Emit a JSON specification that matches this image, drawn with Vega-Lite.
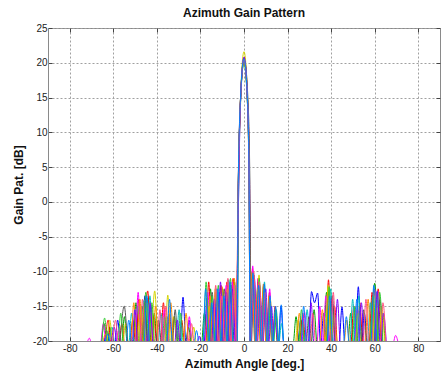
{
  "$schema": "https://vega.github.io/schema/vega-lite/v6.json",
  "width": 392,
  "height": 313,
  "autosize": {"type": "none"},
  "padding": {"left": 48, "top": 28, "right": 1, "bottom": 37},
  "background": "white",
  "title": {"text": "Azimuth Gain Pattern", "font": "Liberation Sans", "fontSize": 12, "fontWeight": "bold", "color": "#111111", "offset": 3},
  "config": {
    "view": {"stroke": "#8a8a8a", "strokeWidth": 1},
    "axis": {
      "labelFont": "Liberation Sans", "labelFontSize": 10, "labelColor": "#222222",
      "titleFont": "Liberation Sans", "titleFontSize": 12, "titleFontWeight": "bold", "titleColor": "#111111",
      "domainColor": "#8a8a8a", "tickColor": "#444444",
      "gridColor": "#a0a0a0", "gridDash": [2, 2], "gridWidth": 1
    }
  },
  "data": {"values": [
    {"s":"a","x":-64.4,"y":-20.6},{"s":"a","x":-63,"y":-18.5},{"s":"a","x":-61.6,"y":-20.6},{"s":"a","x":-59.4,"y":-20.6},{"s":"a","x":-58,"y":-17},{"s":"a","x":-56.6,"y":-20.6},
    {"s":"a","x":-49.7,"y":-20.6},{"s":"a","x":-48.3,"y":-15.5},{"s":"a","x":-46.9,"y":-20.6},{"s":"a","x":-45.5,"y":-13.5},{"s":"a","x":-44.1,"y":-20.6},{"s":"a","x":-42.7,"y":-15},{"s":"a","x":-41.3,"y":-20.6},
    {"s":"a","x":-37.4,"y":-20.6},{"s":"a","x":-36,"y":-17},{"s":"a","x":-34.6,"y":-20.6},{"s":"a","x":-29.4,"y":-20.6},{"s":"a","x":-28,"y":-13.7},{"s":"a","x":-26.6,"y":-20.6},{"s":"a","x":-25.2,"y":-17},{"s":"a","x":-23.8,"y":-20.6},
    {"s":"a","x":-18.4,"y":-20.6},{"s":"a","x":-17,"y":-14},{"s":"a","x":-15.6,"y":-20.6},{"s":"a","x":-14.2,"y":-15.5},{"s":"a","x":-12.8,"y":-20.6},{"s":"a","x":-11.4,"y":-13},{"s":"a","x":-10,"y":-20.6},{"s":"a","x":-8.6,"y":-14},{"s":"a","x":-7.2,"y":-20.6},{"s":"a","x":-5.8,"y":-12},{"s":"a","x":-4.4,"y":-20.6},
    {"s":"a","x":-3.1,"y":-20.6},{"s":"a","x":-2.6,"y":0},{"s":"a","x":-1.6,"y":14.5},{"s":"a","x":0,"y":20.6},{"s":"a","x":1.5,"y":15},{"s":"a","x":2.4,"y":3},{"s":"a","x":2.9,"y":-20.6},
    {"s":"a","x":4,"y":-11},{"s":"a","x":5.3,"y":-20.6},{"s":"a","x":6.6,"y":-12},{"s":"a","x":7.9,"y":-20.6},{"s":"a","x":9.2,"y":-13.5},{"s":"a","x":10.5,"y":-20.6},{"s":"a","x":11.8,"y":-15},{"s":"a","x":13.1,"y":-20.6},{"s":"a","x":14.4,"y":-16},{"s":"a","x":15.7,"y":-20.6},{"s":"a","x":17,"y":-15},{"s":"a","x":18.3,"y":-20.6},
    {"s":"a","x":24.6,"y":-20.6},{"s":"a","x":26,"y":-17},{"s":"a","x":27.4,"y":-20.6},{"s":"a","x":29.6,"y":-20.6},{"s":"a","x":31,"y":-12.9},{"s":"a","x":32.4,"y":-14.5},{"s":"a","x":33.8,"y":-13.1},{"s":"a","x":35.2,"y":-20.6},{"s":"a","x":36.6,"y":-16},{"s":"a","x":38,"y":-20.6},{"s":"a","x":39.4,"y":-14.5},{"s":"a","x":40.8,"y":-20.6},
    {"s":"a","x":43.6,"y":-20.6},{"s":"a","x":45,"y":-15.1},{"s":"a","x":46.4,"y":-20.6},{"s":"a","x":51.1,"y":-20.6},{"s":"a","x":52.5,"y":-12.2},{"s":"a","x":53.9,"y":-20.6},{"s":"a","x":55.3,"y":-16},{"s":"a","x":56.7,"y":-20.6},{"s":"a","x":57.6,"y":-20.6},{"s":"a","x":59,"y":-14},{"s":"a","x":60.4,"y":-20.6},{"s":"a","x":61.8,"y":-15.5},{"s":"a","x":63.2,"y":-20.6},

    {"s":"b","x":-65.5,"y":-20.6},{"s":"b","x":-64.2,"y":-17.5},{"s":"b","x":-62.9,"y":-20.6},{"s":"b","x":-61.6,"y":-18},{"s":"b","x":-60.3,"y":-20.6},{"s":"b","x":-56.3,"y":-20.6},{"s":"b","x":-54.9,"y":-16.5},{"s":"b","x":-53.5,"y":-20.6},
    {"s":"b","x":-51,"y":-20.6},{"s":"b","x":-49.6,"y":-14.5},{"s":"b","x":-48.2,"y":-20.6},{"s":"b","x":-46.8,"y":-15},{"s":"b","x":-45.4,"y":-20.6},{"s":"b","x":-44,"y":-13.8},{"s":"b","x":-42.6,"y":-20.6},{"s":"b","x":-41.2,"y":-16},{"s":"b","x":-39.8,"y":-20.6},
    {"s":"b","x":-33.5,"y":-20.6},{"s":"b","x":-32,"y":-16.5},{"s":"b","x":-30.5,"y":-20.6},{"s":"b","x":-27,"y":-20.6},{"s":"b","x":-25.5,"y":-18},{"s":"b","x":-24,"y":-20.6},
    {"s":"b","x":-19.6,"y":-20.6},{"s":"b","x":-18.2,"y":-16},{"s":"b","x":-16.8,"y":-20.6},{"s":"b","x":-15.4,"y":-12.5},{"s":"b","x":-14,"y":-20.6},{"s":"b","x":-12.6,"y":-15},{"s":"b","x":-11.2,"y":-20.6},{"s":"b","x":-9.8,"y":-12.5},{"s":"b","x":-8.4,"y":-20.6},{"s":"b","x":-7,"y":-13.5},{"s":"b","x":-5.6,"y":-20.6},{"s":"b","x":-4.3,"y":-11.5},{"s":"b","x":-3.3,"y":-20.6},
    {"s":"b","x":-2.8,"y":-2},{"s":"b","x":-1.8,"y":13},{"s":"b","x":-0.2,"y":20.4},{"s":"b","x":1.3,"y":16},{"s":"b","x":2.3,"y":4},{"s":"b","x":2.8,"y":-20.6},
    {"s":"b","x":3.8,"y":-10},{"s":"b","x":5.1,"y":-20.6},{"s":"b","x":6.4,"y":-11.5},{"s":"b","x":7.7,"y":-20.6},{"s":"b","x":9,"y":-12},{"s":"b","x":10.3,"y":-20.6},{"s":"b","x":11.6,"y":-14},{"s":"b","x":12.9,"y":-20.6},{"s":"b","x":14.2,"y":-17},{"s":"b","x":15.5,"y":-20.6},
    {"s":"b","x":22.5,"y":-20.6},{"s":"b","x":23.9,"y":-16.5},{"s":"b","x":25.3,"y":-20.6},{"s":"b","x":26.7,"y":-17},{"s":"b","x":28.1,"y":-20.6},{"s":"b","x":30.8,"y":-20.6},{"s":"b","x":32.2,"y":-15.5},{"s":"b","x":33.6,"y":-20.6},
    {"s":"b","x":36.5,"y":-20.6},{"s":"b","x":37.9,"y":-13},{"s":"b","x":39.3,"y":-20.6},{"s":"b","x":40.7,"y":-15},{"s":"b","x":42.1,"y":-20.6},{"s":"b","x":47.6,"y":-20.6},{"s":"b","x":49,"y":-16},{"s":"b","x":50.4,"y":-20.6},
    {"s":"b","x":57.9,"y":-20.6},{"s":"b","x":60,"y":-11.7},{"s":"b","x":62.1,"y":-20.6},{"s":"b","x":63.5,"y":-16},{"s":"b","x":64.9,"y":-20.6},

    {"s":"c","x":-63.8,"y":-20.6},{"s":"c","x":-62.4,"y":-17},{"s":"c","x":-61,"y":-20.6},{"s":"c","x":-57.5,"y":-20.6},{"s":"c","x":-56.1,"y":-17.5},{"s":"c","x":-54.7,"y":-20.6},
    {"s":"c","x":-52.5,"y":-20.6},{"s":"c","x":-51.1,"y":-17},{"s":"c","x":-49.7,"y":-20.6},{"s":"c","x":-48.3,"y":-14},{"s":"c","x":-46.9,"y":-20.6},{"s":"c","x":-44.2,"y":-12.8},{"s":"c","x":-42.8,"y":-20.6},{"s":"c","x":-41.4,"y":-16.5},{"s":"c","x":-40,"y":-20.6},
    {"s":"c","x":-38.4,"y":-20.6},{"s":"c","x":-37,"y":-14.5},{"s":"c","x":-35.6,"y":-20.6},{"s":"c","x":-34.2,"y":-16.2},{"s":"c","x":-32.8,"y":-20.6},{"s":"c","x":-30,"y":-20.6},{"s":"c","x":-28.6,"y":-17},{"s":"c","x":-27.2,"y":-20.6},
    {"s":"c","x":-17.6,"y":-20.6},{"s":"c","x":-16.2,"y":-11.5},{"s":"c","x":-14.8,"y":-20.6},{"s":"c","x":-13.4,"y":-14},{"s":"c","x":-12,"y":-20.6},{"s":"c","x":-10.6,"y":-12},{"s":"c","x":-9.2,"y":-20.6},{"s":"c","x":-7.8,"y":-11.5},{"s":"c","x":-6.4,"y":-20.6},{"s":"c","x":-5,"y":-11},{"s":"c","x":-3.6,"y":-20.6},
    {"s":"c","x":-2.7,"y":2},{"s":"c","x":-1.5,"y":15.5},{"s":"c","x":0.1,"y":20.8},{"s":"c","x":1.6,"y":15},{"s":"c","x":2.5,"y":2},{"s":"c","x":3,"y":-20.6},
    {"s":"c","x":3.9,"y":-9.5},{"s":"c","x":5.2,"y":-20.6},{"s":"c","x":6.5,"y":-11},{"s":"c","x":7.8,"y":-20.6},{"s":"c","x":9.1,"y":-12.5},{"s":"c","x":10.4,"y":-20.6},{"s":"c","x":11.7,"y":-13},{"s":"c","x":13,"y":-20.6},{"s":"c","x":14.3,"y":-15},{"s":"c","x":15.6,"y":-20.6},
    {"s":"c","x":25.6,"y":-20.6},{"s":"c","x":27,"y":-16},{"s":"c","x":28.4,"y":-20.6},{"s":"c","x":37.4,"y":-20.6},{"s":"c","x":38.8,"y":-11.2},{"s":"c","x":40.2,"y":-20.6},{"s":"c","x":41.6,"y":-15},{"s":"c","x":43,"y":-20.6},
    {"s":"c","x":49,"y":-20.6},{"s":"c","x":50.4,"y":-15},{"s":"c","x":51.8,"y":-20.6},{"s":"c","x":53.2,"y":-14.5},{"s":"c","x":54.6,"y":-20.6},{"s":"c","x":57.4,"y":-20.6},{"s":"c","x":58.8,"y":-13},{"s":"c","x":60.2,"y":-20.6},{"s":"c","x":61.6,"y":-12.5},{"s":"c","x":63,"y":-20.6},

    {"s":"d","x":-62,"y":-20.6},{"s":"d","x":-60.6,"y":-18},{"s":"d","x":-59.2,"y":-20.6},
    {"s":"d","x":-53,"y":-20.6},{"s":"d","x":-51.6,"y":-16},{"s":"d","x":-50.2,"y":-20.6},{"s":"d","x":-48.8,"y":-15},{"s":"d","x":-47.4,"y":-20.6},{"s":"d","x":-46,"y":-14.2},{"s":"d","x":-44.6,"y":-20.6},{"s":"d","x":-43.2,"y":-13.5},{"s":"d","x":-41.8,"y":-20.6},
    {"s":"d","x":-39.5,"y":-20.6},{"s":"d","x":-38.1,"y":-16},{"s":"d","x":-36.7,"y":-20.6},{"s":"d","x":-35.3,"y":-16.5},{"s":"d","x":-33.9,"y":-20.6},{"s":"d","x":-31.2,"y":-20.6},{"s":"d","x":-29.8,"y":-15.5},{"s":"d","x":-28.4,"y":-20.6},
    {"s":"d","x":-16.8,"y":-20.6},{"s":"d","x":-15.4,"y":-14},{"s":"d","x":-14,"y":-20.6},{"s":"d","x":-12.6,"y":-12.5},{"s":"d","x":-11.2,"y":-20.6},{"s":"d","x":-9.8,"y":-13},{"s":"d","x":-8.4,"y":-20.6},{"s":"d","x":-7,"y":-11.2},{"s":"d","x":-5.6,"y":-20.6},{"s":"d","x":-4.2,"y":-12},{"s":"d","x":-3.3,"y":-20.6},
    {"s":"d","x":-2.9,"y":-5},{"s":"d","x":-1.9,"y":12},{"s":"d","x":0,"y":20.2},{"s":"d","x":1.4,"y":15.5},{"s":"d","x":2.3,"y":4},{"s":"d","x":2.8,"y":-20.6},
    {"s":"d","x":4.2,"y":-10.8},{"s":"d","x":5.5,"y":-20.6},{"s":"d","x":6.8,"y":-12.5},{"s":"d","x":8.1,"y":-20.6},{"s":"d","x":9.4,"y":-11.5},{"s":"d","x":10.7,"y":-20.6},{"s":"d","x":12,"y":-14.5},{"s":"d","x":13.3,"y":-20.6},{"s":"d","x":14.6,"y":-15.5},{"s":"d","x":15.9,"y":-20.6},{"s":"d","x":17.2,"y":-17.5},{"s":"d","x":18.5,"y":-20.6},
    {"s":"d","x":27.6,"y":-20.6},{"s":"d","x":29,"y":-15.5},{"s":"d","x":30.4,"y":-20.6},{"s":"d","x":38.4,"y":-20.6},{"s":"d","x":39.8,"y":-12.5},{"s":"d","x":41.2,"y":-20.6},
    {"s":"d","x":48.5,"y":-20.6},{"s":"d","x":49.9,"y":-14},{"s":"d","x":51.3,"y":-20.6},{"s":"d","x":52.7,"y":-13.5},{"s":"d","x":54.1,"y":-20.6},{"s":"d","x":56.6,"y":-20.6},{"s":"d","x":58,"y":-14.5},{"s":"d","x":59.4,"y":-20.6},{"s":"d","x":60.8,"y":-13},{"s":"d","x":62.2,"y":-20.6},

    {"s":"e","x":-72.3,"y":-20.6},{"s":"e","x":-71,"y":-19.6},{"s":"e","x":-69.7,"y":-20.6},{"s":"e","x":-66,"y":-20.6},{"s":"e","x":-64.6,"y":-17.5},{"s":"e","x":-63.2,"y":-20.6},{"s":"e","x":-59,"y":-20.6},{"s":"e","x":-57.6,"y":-18.5},{"s":"e","x":-56.2,"y":-20.6},
    {"s":"e","x":-50,"y":-20.6},{"s":"e","x":-48.6,"y":-13},{"s":"e","x":-47.2,"y":-20.6},{"s":"e","x":-45.8,"y":-15},{"s":"e","x":-44.4,"y":-20.6},{"s":"e","x":-43,"y":-16},{"s":"e","x":-41.6,"y":-20.6},
    {"s":"e","x":-38,"y":-20.6},{"s":"e","x":-36.6,"y":-15.5},{"s":"e","x":-35.2,"y":-20.6},{"s":"e","x":-26.5,"y":-20.6},{"s":"e","x":-25.1,"y":-16.5},{"s":"e","x":-23.7,"y":-20.6},
    {"s":"e","x":-18,"y":-20.6},{"s":"e","x":-16.6,"y":-13},{"s":"e","x":-15.2,"y":-20.6},{"s":"e","x":-13.8,"y":-14.5},{"s":"e","x":-12.4,"y":-20.6},{"s":"e","x":-11,"y":-13.5},{"s":"e","x":-9.6,"y":-20.6},{"s":"e","x":-8.2,"y":-12},{"s":"e","x":-6.8,"y":-20.6},{"s":"e","x":-5.4,"y":-11.5},{"s":"e","x":-4,"y":-20.6},
    {"s":"e","x":-3.2,"y":-20.6},{"s":"e","x":-2.8,"y":-3},{"s":"e","x":-1.7,"y":13.5},{"s":"e","x":0,"y":20.5},{"s":"e","x":1.6,"y":15},{"s":"e","x":2.6,"y":2},{"s":"e","x":3.1,"y":-20.6},
    {"s":"e","x":4,"y":-9.2},{"s":"e","x":5.3,"y":-20.6},{"s":"e","x":6.6,"y":-11},{"s":"e","x":7.9,"y":-20.6},{"s":"e","x":9.2,"y":-14},{"s":"e","x":10.5,"y":-20.6},{"s":"e","x":11.8,"y":-12.5},{"s":"e","x":13.1,"y":-20.6},{"s":"e","x":14.4,"y":-16.5},{"s":"e","x":15.7,"y":-20.6},
    {"s":"e","x":26.4,"y":-20.6},{"s":"e","x":27.8,"y":-15.8},{"s":"e","x":29.2,"y":-20.6},{"s":"e","x":33.4,"y":-20.6},{"s":"e","x":34.8,"y":-15},{"s":"e","x":36.2,"y":-20.6},{"s":"e","x":37.6,"y":-13.5},{"s":"e","x":39,"y":-20.6},{"s":"e","x":40.4,"y":-14},{"s":"e","x":41.8,"y":-20.6},
    {"s":"e","x":50.6,"y":-20.6},{"s":"e","x":52,"y":-15.5},{"s":"e","x":53.4,"y":-20.6},{"s":"e","x":58.6,"y":-20.6},{"s":"e","x":60,"y":-12.5},{"s":"e","x":61.4,"y":-20.6},{"s":"e","x":68.2,"y":-20.6},{"s":"e","x":69.6,"y":-19.2},{"s":"e","x":71,"y":-20.6},

    {"s":"f","x":-63,"y":-20.6},{"s":"f","x":-61.6,"y":-17},{"s":"f","x":-60.2,"y":-20.6},{"s":"f","x":-55.8,"y":-20.6},{"s":"f","x":-54.4,"y":-17.5},{"s":"f","x":-53,"y":-20.6},
    {"s":"f","x":-48.6,"y":-20.6},{"s":"f","x":-47.2,"y":-15},{"s":"f","x":-45.8,"y":-20.6},{"s":"f","x":-44.4,"y":-14.5},{"s":"f","x":-43,"y":-20.6},{"s":"f","x":-41,"y":-12.8},{"s":"f","x":-39.3,"y":-20.6},
    {"s":"f","x":-36.4,"y":-20.6},{"s":"f","x":-35,"y":-13.4},{"s":"f","x":-33.6,"y":-20.6},{"s":"f","x":-32.2,"y":-16.5},{"s":"f","x":-30.8,"y":-20.6},{"s":"f","x":-24.5,"y":-20.6},{"s":"f","x":-23.1,"y":-18},{"s":"f","x":-21.7,"y":-20.6},
    {"s":"f","x":-17.4,"y":-20.6},{"s":"f","x":-16,"y":-15},{"s":"f","x":-14.6,"y":-20.6},{"s":"f","x":-13.2,"y":-12.5},{"s":"f","x":-11.8,"y":-20.6},{"s":"f","x":-10.4,"y":-14},{"s":"f","x":-9,"y":-20.6},{"s":"f","x":-7.6,"y":-12.5},{"s":"f","x":-6.2,"y":-20.6},{"s":"f","x":-4.8,"y":-13},{"s":"f","x":-3.5,"y":-20.6},
    {"s":"f","x":-2.8,"y":-4},{"s":"f","x":-1.6,"y":15},{"s":"f","x":0,"y":21.6},{"s":"f","x":1.5,"y":16},{"s":"f","x":2.4,"y":3},{"s":"f","x":2.9,"y":-20.6},
    {"s":"f","x":4.3,"y":-12},{"s":"f","x":5.6,"y":-20.6},{"s":"f","x":6.9,"y":-10.5},{"s":"f","x":8.2,"y":-20.6},{"s":"f","x":9.5,"y":-13},{"s":"f","x":10.8,"y":-20.6},{"s":"f","x":12.1,"y":-14},{"s":"f","x":13.4,"y":-20.6},
    {"s":"f","x":23.4,"y":-20.6},{"s":"f","x":24.8,"y":-17},{"s":"f","x":26.2,"y":-20.6},{"s":"f","x":37.2,"y":-20.6},{"s":"f","x":38.6,"y":-12},{"s":"f","x":40,"y":-20.6},{"s":"f","x":41.4,"y":-16},{"s":"f","x":42.8,"y":-20.6},
    {"s":"f","x":51,"y":-20.6},{"s":"f","x":52.4,"y":-16},{"s":"f","x":53.8,"y":-20.6},{"s":"f","x":59,"y":-20.6},{"s":"f","x":60.4,"y":-13.5},{"s":"f","x":61.8,"y":-20.6},{"s":"f","x":63.2,"y":-15},{"s":"f","x":64.6,"y":-20.6},

    {"s":"g","x":-57,"y":-20.6},{"s":"g","x":-55,"y":-15},{"s":"g","x":-53,"y":-20.6},{"s":"g","x":-47,"y":-20.6},{"s":"g","x":-45.6,"y":-14.5},{"s":"g","x":-44.2,"y":-20.6},{"s":"g","x":-40.6,"y":-20.6},{"s":"g","x":-39.2,"y":-17},{"s":"g","x":-37.8,"y":-20.6},
    {"s":"g","x":-33,"y":-20.6},{"s":"g","x":-31.6,"y":-15.5},{"s":"g","x":-30.2,"y":-20.6},
    {"s":"g","x":-16,"y":-20.6},{"s":"g","x":-14.6,"y":-13},{"s":"g","x":-13.2,"y":-20.6},{"s":"g","x":-11.8,"y":-14.5},{"s":"g","x":-10.4,"y":-20.6},{"s":"g","x":-9,"y":-12.5},{"s":"g","x":-7.6,"y":-20.6},{"s":"g","x":-6.2,"y":-13},{"s":"g","x":-4.8,"y":-20.6},
    {"s":"g","x":-3.3,"y":-20.6},{"s":"g","x":-2.7,"y":0},{"s":"g","x":-1.5,"y":15.5},{"s":"g","x":0.2,"y":20.3},{"s":"g","x":1.7,"y":15.5},{"s":"g","x":2.7,"y":3},{"s":"g","x":3.3,"y":-20.6},
    {"s":"g","x":4.6,"y":-10.5},{"s":"g","x":5.9,"y":-20.6},{"s":"g","x":7.2,"y":-12},{"s":"g","x":8.5,"y":-20.6},{"s":"g","x":9.8,"y":-14.5},{"s":"g","x":11.1,"y":-20.6},
    {"s":"g","x":28.4,"y":-20.6},{"s":"g","x":29.8,"y":-16.5},{"s":"g","x":31.2,"y":-20.6},{"s":"g","x":39.2,"y":-20.6},{"s":"g","x":40.6,"y":-13.5},{"s":"g","x":42,"y":-20.6},
    {"s":"g","x":53.6,"y":-20.6},{"s":"g","x":55,"y":-15.5},{"s":"g","x":56.4,"y":-20.6},{"s":"g","x":61,"y":-20.6},{"s":"g","x":62.4,"y":-14},{"s":"g","x":63.8,"y":-20.6},

    {"s":"h","x":-65,"y":-20.6},{"s":"h","x":-63.6,"y":-19},{"s":"h","x":-62.2,"y":-20.6},{"s":"h","x":-52,"y":-20.6},{"s":"h","x":-50.6,"y":-14.5},{"s":"h","x":-49.2,"y":-20.6},{"s":"h","x":-47.8,"y":-14},{"s":"h","x":-46.4,"y":-20.6},
    {"s":"h","x":-42,"y":-20.6},{"s":"h","x":-40.6,"y":-15},{"s":"h","x":-39.2,"y":-20.6},{"s":"h","x":-35,"y":-20.6},{"s":"h","x":-33.6,"y":-14.5},{"s":"h","x":-32.2,"y":-20.6},{"s":"h","x":-28,"y":-20.6},{"s":"h","x":-26.6,"y":-16},{"s":"h","x":-25.2,"y":-20.6},
    {"s":"h","x":-17,"y":-20.6},{"s":"h","x":-15.6,"y":-13.5},{"s":"h","x":-14.2,"y":-20.6},{"s":"h","x":-12.8,"y":-13},{"s":"h","x":-11.4,"y":-20.6},{"s":"h","x":-10,"y":-12.2},{"s":"h","x":-8.6,"y":-20.6},{"s":"h","x":-7.2,"y":-12.5},{"s":"h","x":-5.8,"y":-20.6},{"s":"h","x":-4.4,"y":-11},{"s":"h","x":-3.4,"y":-20.6},
    {"s":"h","x":-2.8,"y":-2},{"s":"h","x":-1.7,"y":14},{"s":"h","x":0,"y":20.4},{"s":"h","x":1.4,"y":15.5},{"s":"h","x":2.3,"y":3},{"s":"h","x":2.8,"y":-20.6},
    {"s":"h","x":3.7,"y":-10.2},{"s":"h","x":5,"y":-20.6},{"s":"h","x":6.3,"y":-12.5},{"s":"h","x":7.6,"y":-20.6},{"s":"h","x":8.9,"y":-11.8},{"s":"h","x":10.2,"y":-20.6},{"s":"h","x":11.5,"y":-13.5},{"s":"h","x":12.8,"y":-20.6},
    {"s":"h","x":24,"y":-20.6},{"s":"h","x":25.4,"y":-16},{"s":"h","x":26.8,"y":-20.6},{"s":"h","x":34.6,"y":-20.6},{"s":"h","x":36,"y":-15.5},{"s":"h","x":37.4,"y":-20.6},{"s":"h","x":38.8,"y":-13},{"s":"h","x":40.2,"y":-20.6},
    {"s":"h","x":45.8,"y":-20.6},{"s":"h","x":47.2,"y":-17},{"s":"h","x":48.6,"y":-20.6},{"s":"h","x":55.6,"y":-20.6},{"s":"h","x":57,"y":-14},{"s":"h","x":58.4,"y":-20.6},{"s":"h","x":59.8,"y":-12.8},{"s":"h","x":61.2,"y":-20.6},

    {"s":"i","x":-65.4,"y":-20.6},{"s":"i","x":-64,"y":-16.7},{"s":"i","x":-62.6,"y":-20.6},{"s":"i","x":-58,"y":-20.6},{"s":"i","x":-56.6,"y":-16},{"s":"i","x":-55.2,"y":-20.6},
    {"s":"i","x":-46.5,"y":-20.6},{"s":"i","x":-45.1,"y":-13},{"s":"i","x":-43.7,"y":-20.6},{"s":"i","x":-42.3,"y":-14.5},{"s":"i","x":-40.9,"y":-20.6},{"s":"i","x":-37.8,"y":-20.6},{"s":"i","x":-36.4,"y":-16.5},{"s":"i","x":-35,"y":-20.6},
    {"s":"i","x":-30.5,"y":-20.6},{"s":"i","x":-29.1,"y":-16},{"s":"i","x":-27.7,"y":-20.6},
    {"s":"i","x":-18.8,"y":-20.6},{"s":"i","x":-17.4,"y":-11.5},{"s":"i","x":-16,"y":-20.6},{"s":"i","x":-14.6,"y":-13.5},{"s":"i","x":-13.2,"y":-20.6},{"s":"i","x":-11.8,"y":-12},{"s":"i","x":-10.4,"y":-20.6},{"s":"i","x":-9,"y":-14},{"s":"i","x":-7.6,"y":-20.6},{"s":"i","x":-6.2,"y":-11},{"s":"i","x":-4.8,"y":-20.6},
    {"s":"i","x":-3.1,"y":-20.6},{"s":"i","x":-2.6,"y":-2},{"s":"i","x":-1.6,"y":14},{"s":"i","x":0,"y":20.3},{"s":"i","x":1.5,"y":15.5},{"s":"i","x":2.4,"y":3},{"s":"i","x":2.9,"y":-20.6},
    {"s":"i","x":4.4,"y":-11.5},{"s":"i","x":5.7,"y":-20.6},{"s":"i","x":7,"y":-11},{"s":"i","x":8.3,"y":-20.6},{"s":"i","x":9.6,"y":-12.5},{"s":"i","x":10.9,"y":-20.6},{"s":"i","x":12.2,"y":-15},{"s":"i","x":13.5,"y":-20.6},{"s":"i","x":14.8,"y":-15.5},{"s":"i","x":16.1,"y":-20.6},
    {"s":"i","x":25,"y":-20.6},{"s":"i","x":26.4,"y":-15.5},{"s":"i","x":27.8,"y":-20.6},{"s":"i","x":37.7,"y":-20.6},{"s":"i","x":39.1,"y":-12.2},{"s":"i","x":40.5,"y":-20.6},
    {"s":"i","x":49.6,"y":-20.6},{"s":"i","x":51,"y":-15},{"s":"i","x":52.4,"y":-20.6},{"s":"i","x":57.5,"y":-20.6},{"s":"i","x":59.2,"y":-13.5},{"s":"i","x":60.9,"y":-20.6},{"s":"i","x":62.3,"y":-13},{"s":"i","x":63.7,"y":-20.6},

    {"s":"j","x":-61,"y":-20.6},{"s":"j","x":-59.6,"y":-18},{"s":"j","x":-58.2,"y":-20.6},{"s":"j","x":-51.5,"y":-20.6},{"s":"j","x":-50.1,"y":-15.5},{"s":"j","x":-48.7,"y":-20.6},{"s":"j","x":-44.5,"y":-20.6},{"s":"j","x":-43.1,"y":-14.5},{"s":"j","x":-41.7,"y":-20.6},
    {"s":"j","x":-32,"y":-20.6},{"s":"j","x":-30.6,"y":-17},{"s":"j","x":-29.2,"y":-20.6},{"s":"j","x":-21.9,"y":-20.6},{"s":"j","x":-20.6,"y":-19.3},{"s":"j","x":-19.3,"y":-20.6},
    {"s":"j","x":-15,"y":-20.6},{"s":"j","x":-13.6,"y":-14},{"s":"j","x":-12.2,"y":-20.6},{"s":"j","x":-10.8,"y":-11.5},{"s":"j","x":-9.4,"y":-20.6},{"s":"j","x":-8,"y":-13},{"s":"j","x":-6.6,"y":-20.6},{"s":"j","x":-5.2,"y":-12.5},{"s":"j","x":-3.8,"y":-20.6},
    {"s":"j","x":-2.7,"y":-3},{"s":"j","x":-1.6,"y":14.5},{"s":"j","x":0,"y":20.8},{"s":"j","x":1.4,"y":16},{"s":"j","x":2.3,"y":4},{"s":"j","x":2.8,"y":-20.6},
    {"s":"j","x":4.8,"y":-11},{"s":"j","x":6.1,"y":-20.6},{"s":"j","x":7.4,"y":-13},{"s":"j","x":8.7,"y":-20.6},{"s":"j","x":10,"y":-12.5},{"s":"j","x":11.3,"y":-20.6},{"s":"j","x":12.6,"y":-15},{"s":"j","x":13.9,"y":-20.6},
    {"s":"j","x":29.4,"y":-20.6},{"s":"j","x":30.8,"y":-14.5},{"s":"j","x":32.2,"y":-20.6},{"s":"j","x":41.5,"y":-20.6},{"s":"j","x":42.9,"y":-14},{"s":"j","x":44.3,"y":-20.6},
    {"s":"j","x":52.5,"y":-20.6},{"s":"j","x":53.9,"y":-14.5},{"s":"j","x":55.3,"y":-20.6},{"s":"j","x":59.8,"y":-20.6},{"s":"j","x":61.2,"y":-12.8},{"s":"j","x":62.6,"y":-20.6},{"s":"j","x":64,"y":-16},{"s":"j","x":65.4,"y":-20.6},

    {"s":"k","x":-60.4,"y":-20.6},{"s":"k","x":-59,"y":-17},{"s":"k","x":-57.6,"y":-20.6},{"s":"k","x":-48,"y":-20.6},{"s":"k","x":-46.6,"y":-14},{"s":"k","x":-45.2,"y":-20.6},
    {"s":"k","x":-40,"y":-20.6},{"s":"k","x":-38.6,"y":-15.5},{"s":"k","x":-37.2,"y":-20.6},{"s":"k","x":-35.8,"y":-15},{"s":"k","x":-34.4,"y":-20.6},{"s":"k","x":-25.5,"y":-20.6},{"s":"k","x":-24.1,"y":-17.5},{"s":"k","x":-22.7,"y":-20.6},
    {"s":"k","x":-14.4,"y":-20.6},{"s":"k","x":-13,"y":-12},{"s":"k","x":-11.6,"y":-20.6},{"s":"k","x":-10.2,"y":-13.5},{"s":"k","x":-8.8,"y":-20.6},{"s":"k","x":-7.4,"y":-11},{"s":"k","x":-6,"y":-20.6},{"s":"k","x":-4.6,"y":-12},{"s":"k","x":-3.4,"y":-20.6},
    {"s":"k","x":-2.8,"y":-3},{"s":"k","x":-1.7,"y":14},{"s":"k","x":0,"y":20.5},{"s":"k","x":1.5,"y":15.5},{"s":"k","x":2.4,"y":3},{"s":"k","x":2.9,"y":-20.6},
    {"s":"k","x":4.5,"y":-10},{"s":"k","x":5.8,"y":-20.6},{"s":"k","x":7.1,"y":-11.5},{"s":"k","x":8.4,"y":-20.6},{"s":"k","x":9.7,"y":-13},{"s":"k","x":11,"y":-20.6},
    {"s":"k","x":30.2,"y":-20.6},{"s":"k","x":31.6,"y":-16},{"s":"k","x":33,"y":-20.6},{"s":"k","x":39.6,"y":-20.6},{"s":"k","x":41,"y":-13},{"s":"k","x":42.4,"y":-20.6},
    {"s":"k","x":54.6,"y":-20.6},{"s":"k","x":56,"y":-14},{"s":"k","x":57.4,"y":-20.6},{"s":"k","x":62.4,"y":-20.6},{"s":"k","x":63.8,"y":-14.5},{"s":"k","x":65.2,"y":-20.6},

    {"s":"l","x":-64,"y":-20.6},{"s":"l","x":-62.6,"y":-19},{"s":"l","x":-61.2,"y":-20.6},{"s":"l","x":-54.3,"y":-20.6},{"s":"l","x":-52.9,"y":-17},{"s":"l","x":-51.5,"y":-20.6},{"s":"l","x":-46,"y":-20.6},{"s":"l","x":-44.6,"y":-13.5},{"s":"l","x":-43.2,"y":-20.6},
    {"s":"l","x":-35.6,"y":-20.6},{"s":"l","x":-34.2,"y":-14},{"s":"l","x":-32.8,"y":-20.6},{"s":"l","x":-23.2,"y":-20.6},{"s":"l","x":-21.8,"y":-18.5},{"s":"l","x":-20.4,"y":-20.6},
    {"s":"l","x":-19,"y":-20.6},{"s":"l","x":-17.6,"y":-12.5},{"s":"l","x":-16.2,"y":-20.6},{"s":"l","x":-14.8,"y":-14.5},{"s":"l","x":-13.4,"y":-20.6},{"s":"l","x":-12,"y":-12.5},{"s":"l","x":-10.6,"y":-20.6},{"s":"l","x":-9.2,"y":-13.5},{"s":"l","x":-7.8,"y":-20.6},{"s":"l","x":-6.4,"y":-11.5},{"s":"l","x":-5,"y":-20.6},
    {"s":"l","x":-3.2,"y":-20.6},{"s":"l","x":-2.7,"y":1},{"s":"l","x":-1.6,"y":15},{"s":"l","x":0,"y":20.6},{"s":"l","x":1.4,"y":16},{"s":"l","x":2.3,"y":5},{"s":"l","x":2.8,"y":-20.6},
    {"s":"l","x":4.1,"y":-10.2},{"s":"l","x":5.4,"y":-20.6},{"s":"l","x":6.7,"y":-12},{"s":"l","x":8,"y":-20.6},{"s":"l","x":9.3,"y":-11.8},{"s":"l","x":10.6,"y":-20.6},{"s":"l","x":11.9,"y":-13.5},{"s":"l","x":13.2,"y":-20.6},{"s":"l","x":14.5,"y":-15},{"s":"l","x":15.8,"y":-20.6},{"s":"l","x":17.1,"y":-14.8},{"s":"l","x":18.4,"y":-20.6},
    {"s":"l","x":26,"y":-20.6},{"s":"l","x":27.4,"y":-15},{"s":"l","x":28.8,"y":-20.6},{"s":"l","x":38,"y":-20.6},{"s":"l","x":39.4,"y":-13.5},{"s":"l","x":40.8,"y":-20.6},
    {"s":"l","x":45.6,"y":-20.6},{"s":"l","x":47,"y":-16.5},{"s":"l","x":48.4,"y":-20.6},{"s":"l","x":50.4,"y":-20.6},{"s":"l","x":51.8,"y":-14},{"s":"l","x":53.2,"y":-20.6},{"s":"l","x":58.2,"y":-20.6},{"s":"l","x":59.6,"y":-12},{"s":"l","x":61,"y":-20.6}
  ]},
  "layer": [
    {
      "mark": {"type": "line", "strokeWidth": 1, "interpolate": "monotone", "clip": true},
      "encoding": {
        "x": {
          "field": "x", "type": "quantitative",
          "scale": {"domain": [-90, 90], "nice": false, "zero": false},
          "axis": {
            "orient": "bottom", "title": "Azimuth Angle [deg.]",
            "values": [-80, -60, -40, -20, 0, 20, 40, 60, 80],
            "labelExpr": "replace(datum.label, '\u2212', '-')",
            "grid": true, "tickSize": -4, "labelPadding": 6, "titlePadding": 5
          }
        },
        "y": {
          "field": "y", "type": "quantitative",
          "scale": {"domain": [-20, 25], "nice": false, "zero": false},
          "axis": {
            "orient": "left", "title": "Gain Pat. [dB]",
            "values": [-20, -15, -10, -5, 0, 5, 10, 15, 20, 25],
            "labelExpr": "replace(datum.label, '\u2212', '-')",
            "grid": true, "tickSize": -4, "labelPadding": 5, "titlePadding": 7
          }
        },
        "color": {
          "field": "s", "type": "nominal", "legend": null,
          "scale": {
            "domain": ["a", "b", "c", "d", "e", "f", "g", "h", "i", "j", "k", "l"],
            "range": ["#0000ff", "#00a000", "#ff0000", "#00bfbf", "#ff00ff", "#d4d400", "#555555", "#ff8c00", "#33cc33", "#7f00ff", "#ff5080", "#0080ff"]
          }
        }
      }
    },
    {
      "mark": {"type": "line", "opacity": 0},
      "encoding": {
        "x": {
          "field": "x", "type": "quantitative",
          "scale": {"domain": [-90, 90], "nice": false, "zero": false},
          "axis": {"orient": "top", "title": null, "labels": false, "grid": false, "domain": false, "tickSize": -4,
                   "values": [-80, -60, -40, -20, 0, 20, 40, 60, 80]}
        },
        "y": {
          "field": "y", "type": "quantitative",
          "scale": {"domain": [-20, 25], "nice": false, "zero": false},
          "axis": {"orient": "right", "title": null, "labels": false, "grid": false, "domain": false, "tickSize": -4,
                   "values": [-20, -15, -10, -5, 0, 5, 10, 15, 20, 25]}
        }
      }
    }
  ],
  "resolve": {"axis": {"x": "independent", "y": "independent"}}
}
